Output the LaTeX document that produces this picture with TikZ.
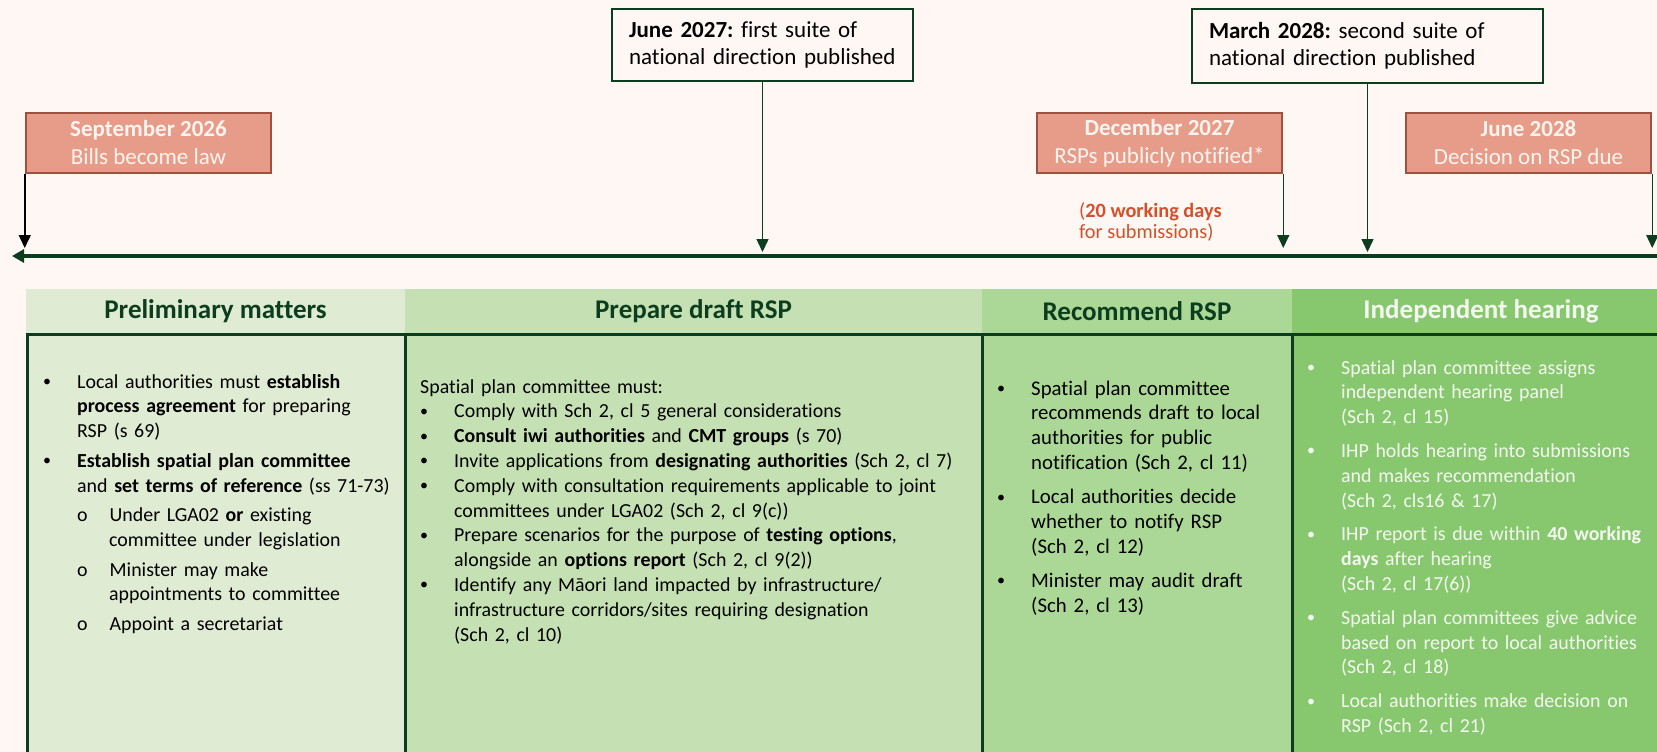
\documentclass[tikz,border=0pt]{standalone}
\usepackage{fontspec}
\setmainfont{Carlito}[Ligatures=NoCommon]
\usepackage{enumitem}
\usetikzlibrary{arrows.meta}

\definecolor{bgpink}{HTML}{FFF7F4}
\definecolor{tldark}{HTML}{0B3D1E}
\definecolor{salmon}{HTML}{E69C88}
\definecolor{salmonedge}{HTML}{A0503F}
\definecolor{salmontext}{HTML}{FFF4EF}
\definecolor{subred}{HTML}{D4502A}
\definecolor{phaseA}{HTML}{DFEBD2}
\definecolor{phaseB}{HTML}{C5E1B4}
\definecolor{phaseC}{HTML}{ABD896}
\definecolor{phaseD}{HTML}{87C86F}
\definecolor{lighttext}{HTML}{F4F8F0}

\setlist[itemize,1]{label=\raisebox{1.5pt}{\fontsize{16}{16}\selectfont\textbullet}, leftmargin=34pt, labelindent=0pt, labelwidth=10pt, labelsep=24pt, align=left, topsep=0pt, partopsep=0pt, parsep=0pt, itemsep=0pt}
\setlist[itemize,2]{label=o, leftmargin=32pt, labelindent=0pt, labelwidth=10pt, labelsep=22pt, align=left, topsep=4.5pt, partopsep=0pt, parsep=0pt, itemsep=5pt}
\frenchspacing

\begin{document}
\begin{tikzpicture}[x=1pt,y=-1pt,
    salmonbox/.style={draw=salmonedge, fill=salmon, line width=2.5pt, minimum width=245pt, minimum height=60pt, inner sep=0pt, align=center, text=salmontext, font=\fontsize{23}{28}\selectfont},
    notebox/.style={draw=tldark, line width=1.8pt, inner xsep=17pt, inner ysep=0pt, align=left, font=\fontsize{23}{27}\selectfont},
    droparrow/.style={draw=tldark, line width=1.5pt, -{Triangle[length=13pt,width=12pt]}},
    phasehead/.style={inner sep=0pt, minimum height=44pt, font=\bfseries\fontsize{27}{32}\selectfont, text=tldark},
    phasebody/.style={anchor=north west, inner sep=0pt, align=left, font=\fontsize{19.9}{24.8}\selectfont},
    phaseline/.style={draw=tldark, line width=3pt}
  ]
  \useasboundingbox (0,0) rectangle (1657,752);
  \fill[bgpink] (0,0) rectangle (1657,752);

  % timeline
  \coordinate (tlR) at (1657,256);
  \coordinate (tlL) at (12,256);
  \coordinate (tickA) at (0,248);
  \coordinate (tickB) at (0,252);
  \draw[draw=tldark, line width=3.5pt, -{Triangle[length=12pt,width=13pt]}] (tlR) -- (tlL);

  \node[salmonbox] (sep) at (148.5,143) {\textbf{September 2026}\\Bills become law};
  \node[salmonbox] (dec) at (1159.5,143) {\textbf{December 2027}\\RSPs publicly notified*};
  \node[salmonbox] (jun28) at (1528.5,143) {\textbf{June 2028}\\Decision on RSP due};
  \node[notebox, text width=267pt, minimum height=72pt] (jun27) at (762.5,45) {\textbf{June 2027:} first suite of\\national direction published};
  \node[notebox, text width=317pt, minimum height=74pt] (mar28) at (1367.5,46) {\textbf{March 2028:} second suite of\\national direction published};
  \node[anchor=west, inner sep=0pt, align=left, text=subred, font=\fontsize{20.3}{21.5}\selectfont] (subs) at (1079,222) {(\textbf{20 working days}\\for submissions)};

  \draw[droparrow, draw=black] (sep.south west) -- (sep.south west |- tickA);
  \draw[droparrow] (jun27.south) -- (jun27.south |- tickB);
  \draw[droparrow] (dec.south east) -- (dec.south east |- tickA);
  \draw[droparrow] (mar28.south) -- (mar28.south |- tickB);
  \draw[droparrow] (jun28.south east) -- (jun28.south east |- tickA);

  % phases
  \fill[phaseA] (26,333) rectangle (405,760);
  \fill[phaseB] (405,333) rectangle (982,760);
  \fill[phaseC] (982,333) rectangle (1292,760);
  \fill[phaseD] (1292,333) rectangle (1670,760);
  \node[phasehead, fill=phaseA, minimum width=379pt] (hPre) at (215.5,311) {Preliminary matters};
  \node[phasehead, fill=phaseB, minimum width=577pt] (hDraft) at (693.5,311) {Prepare draft RSP};
  \node[phasehead, fill=phaseC, minimum width=310pt] (hRec) at (1137,311) {Recommend RSP};
  \node[phasehead, fill=phaseD, minimum width=378pt, text=lighttext] (hInd) at (1481,311) {Independent hearing};
  \draw[phaseline] (27.5,760) -- (27.5,334) -- (1670,334);
  \draw[phaseline] (405,334) -- (405,760);
  \draw[phaseline] (982,334) -- (982,760);
  \draw[phaseline] (1292,334) -- (1292,760);

  \node[phasebody, text width=360pt] (bPre) at (43,363) {%
    \begin{itemize}[itemsep=5pt]
      \item Local authorities must \textbf{establish}\\\textbf{process agreement} for preparing\\RSP (s 69)
      \item \textbf{Establish spatial plan committee}\\and \textbf{set terms of reference} (ss 71-73)
      \begin{itemize}
        \item Under LGA02 \textbf{or} existing\\committee under legislation
        \item Minister may make\\appointments to committee
        \item Appoint a secretariat
      \end{itemize}
    \end{itemize}};
  \node[phasebody, text width=555pt] (bDraft) at (420,379) {%
    Spatial plan committee must:
    \begin{itemize}
      \item Comply with Sch 2, cl 5 general considerations
      \item \textbf{Consult iwi authorities} and \textbf{CMT groups} (s 70)
      \item Invite applications from \textbf{designating authorities} (Sch 2, cl 7)
      \item Comply with consultation requirements applicable to joint\\committees under LGA02 (Sch 2, cl 9(c))
      \item Prepare scenarios for the purpose of \textbf{testing options},\\alongside an \textbf{options report} (Sch 2, cl 9(2))
      \item Identify any Māori land impacted by infrastructure/\\infrastructure corridors/sites requiring designation\\(Sch 2, cl 10)
    \end{itemize}};
  \node[phasebody, text width=290pt, font=\fontsize{20.8}{24.8}\selectfont] (bRec) at (997,370) {%
    \begin{itemize}[itemsep=9.3pt]
      \item Spatial plan committee\\recommends draft to local\\authorities for public\\notification (Sch 2, cl 11)
      \item Local authorities decide\\whether to notify RSP\\(Sch 2, cl 12)
      \item Minister may audit draft\\(Sch 2, cl 13)
    \end{itemize}};
  \node[phasebody, text width=345pt, text=lighttext] (bInd) at (1307,349) {%
    \begin{itemize}[itemsep=9pt]
      \item Spatial plan committee assigns\\independent hearing panel\\(Sch 2, cl 15)
      \item IHP holds hearing into submissions\\and makes recommendation\\(Sch 2, cls16 \& 17)
      \item IHP report is due within \textbf{40 working}\\\textbf{days} after hearing\\(Sch 2, cl 17(6))
      \item Spatial plan committees give advice\\based on report to local authorities\\(Sch 2, cl 18)
      \item Local authorities make decision on\\RSP (Sch 2, cl 21)
    \end{itemize}};
\end{tikzpicture}
\end{document}
